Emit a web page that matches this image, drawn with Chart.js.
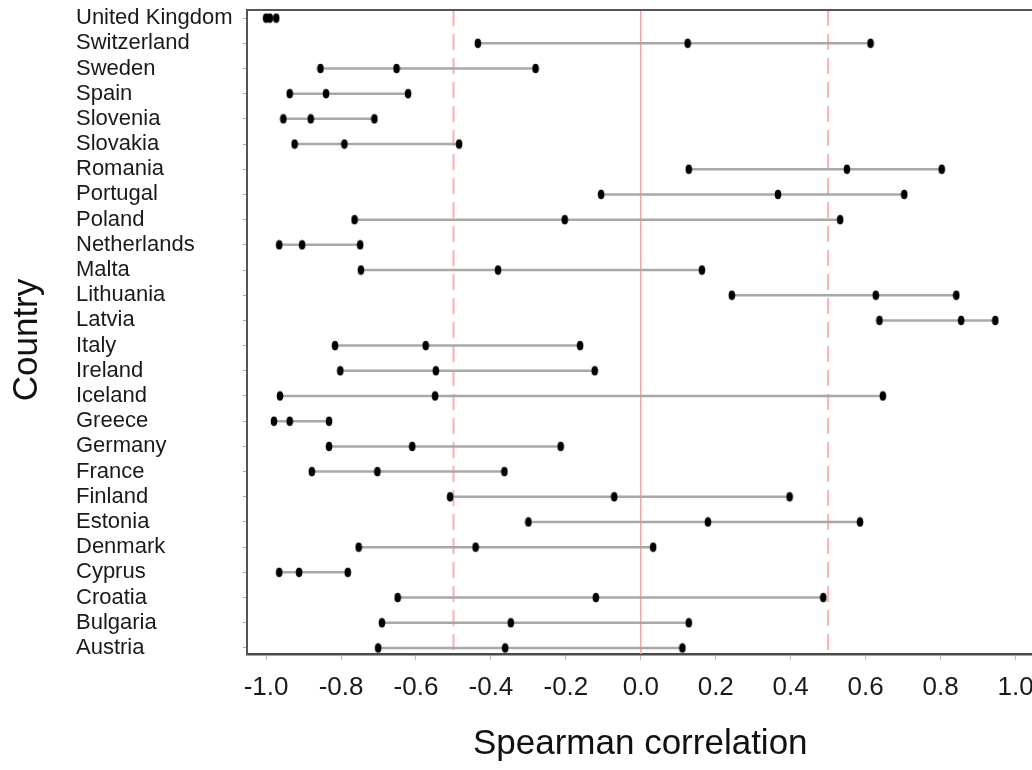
<!DOCTYPE html>
<html><head><meta charset="utf-8">
<script src="https://cdn.jsdelivr.net/npm/chart.js@4"></script>
<style>
html,body{margin:0;padding:0;overflow:hidden;background:#fff;width:1032px;height:770px}
#wrap{width:1040px;height:770px}
</style></head>
<body><div id="wrap"><canvas id="c" width="1040" height="770" style="width:1040px;height:770px"></canvas></div>
<script>
const countries = ["United Kingdom","Switzerland","Sweden","Spain","Slovenia","Slovakia","Romania","Portugal","Poland","Netherlands","Malta","Lithuania","Latvia","Italy","Ireland","Iceland","Greece","Germany","France","Finland","Estonia","Denmark","Cyprus","Croatia","Bulgaria","Austria"];
const lowValues  = [-1.000,-0.435,-0.855,-0.937,-0.954,-0.924, 0.128,-0.106,-0.764,-0.965,-0.747, 0.243, 0.637,-0.816,-0.802,-0.963,-0.979,-0.832,-0.878,-0.509,-0.300,-0.753,-0.965,-0.649,-0.691,-0.701];
const midValues  = [-0.990, 0.125,-0.652,-0.840,-0.881,-0.791, 0.550, 0.366,-0.203,-0.904,-0.381, 0.627, 0.855,-0.574,-0.547,-0.549,-0.937,-0.610,-0.703,-0.071, 0.179,-0.441,-0.912,-0.120,-0.347,-0.362];
const highValues = [-0.973, 0.613,-0.281,-0.621,-0.711,-0.485, 0.803, 0.703, 0.532,-0.749, 0.163, 0.842, 0.946,-0.162,-0.123, 0.646,-0.832,-0.214,-0.364, 0.397, 0.585, 0.033,-0.782, 0.487, 0.128, 0.111];
const xTickValues = [-1.0,-0.8,-0.6,-0.4,-0.2,0.0,0.2,0.4,0.6,0.8,1.0];
const solidRefLines = [0];
const dashedRefLines = [-0.5, 0.5];
const xTitle = "Spearman correlation";
const yTitle = "Country";

const dot = document.createElement('canvas');
dot.width = 8; dot.height = 11;
(function(){const g = dot.getContext('2d'); g.fillStyle = '#000'; g.beginPath(); g.ellipse(4,5.5,3.3,4.7,0,0,Math.PI*2); g.fill();})();

const datasets = countries.map((c, i) => ({
  label: c,
  data: [{x: lowValues[i], y: i}, {x: midValues[i], y: i}, {x: highValues[i], y: i}],
  showLine: true,
  borderColor: '#a8a8a8',
  borderWidth: 2.5,
  pointStyle: dot,
  pointRadius: 4,
  clip: false
}));

const FONT = "'Liberation Sans', Arial, sans-serif";

const decor = {
  id: 'decor',
  beforeDatasetsDraw(chart) {
    const {ctx, chartArea: a, scales: {x}} = chart;
    ctx.save();
    ctx.strokeStyle = '#f4a3a3';
    ctx.lineWidth = 1.5;
    solidRefLines.forEach(v => {
      const px = x.getPixelForValue(v);
      ctx.beginPath(); ctx.moveTo(px, a.top); ctx.lineTo(px, a.bottom); ctx.stroke();
    });
    ctx.strokeStyle = '#f8b0b0';
    ctx.lineWidth = 2;
    ctx.setLineDash([16, 8]);
    dashedRefLines.forEach(v => {
      const px = x.getPixelForValue(v);
      ctx.beginPath(); ctx.moveTo(px, a.top); ctx.lineTo(px, a.bottom); ctx.stroke();
    });
    ctx.restore();
  },
  afterDraw(chart) {
    const {ctx, chartArea: a} = chart;
    ctx.save();
    ctx.strokeStyle = '#555';
    ctx.lineWidth = 2;
    ctx.beginPath(); ctx.moveTo(a.left - 1, a.top); ctx.lineTo(a.right + 10, a.top); ctx.stroke();
    ctx.translate(27, (a.top + a.bottom) / 2 + 8);
    ctx.rotate(-Math.PI / 2);
    ctx.fillStyle = '#111';
    ctx.font = "35px " + FONT;
    ctx.textAlign = 'center';
    ctx.textBaseline = 'middle';
    ctx.fillText(yTitle, 0, 0);
    ctx.restore();
  }
};

new Chart(document.getElementById('c'), {
  type: 'scatter',
  data: { datasets },
  options: {
    responsive: false,
    animation: false,
    devicePixelRatio: 1,
    layout: { padding: { left: 76, top: 10, right: 0, bottom: 0 } },
    plugins: { legend: { display: false }, tooltip: { enabled: false } },
    scales: {
      x: {
        type: 'linear',
        min: -1.051,
        max: 1.048,
        afterBuildTicks: s => { s.ticks = xTickValues.map(v => ({ value: v })); },
        afterFit: s => { s.height = 116; s.paddingLeft = 0; s.paddingRight = 0; },
        ticks: { callback: v => v.toFixed(1), font: { family: FONT, size: 26 }, color: '#1a1a1a', padding: 12, maxRotation: 0, autoSkip: false },
        grid: { drawOnChartArea: false, drawTicks: true, tickLength: 6, color: '#bdbdbd' },
        border: { display: true, color: '#4a4a4a', width: 2.5 },
        title: { display: true, text: xTitle, font: { family: FONT, size: 35 }, color: '#111', padding: { top: 0, bottom: 5 } }
      },
      y: {
        type: 'linear',
        reverse: true,
        min: -0.32,
        max: 25.24,
        afterBuildTicks: s => { s.ticks = countries.map((c, i) => ({ value: i })); },
        afterFit: s => { s.width = 171; s.paddingTop = 0; s.paddingBottom = 0; },
        ticks: { callback: v => countries[v], font: { family: FONT, size: 22 }, color: '#1a1a1a', crossAlign: 'far', padding: 4, autoSkip: false },
        grid: { drawOnChartArea: false, drawTicks: true, tickLength: 4, color: '#aaaaaa' },
        border: { display: true, color: '#555', width: 2 }
      }
    }
  },
  plugins: [decor]
});
</script>
</body></html>
